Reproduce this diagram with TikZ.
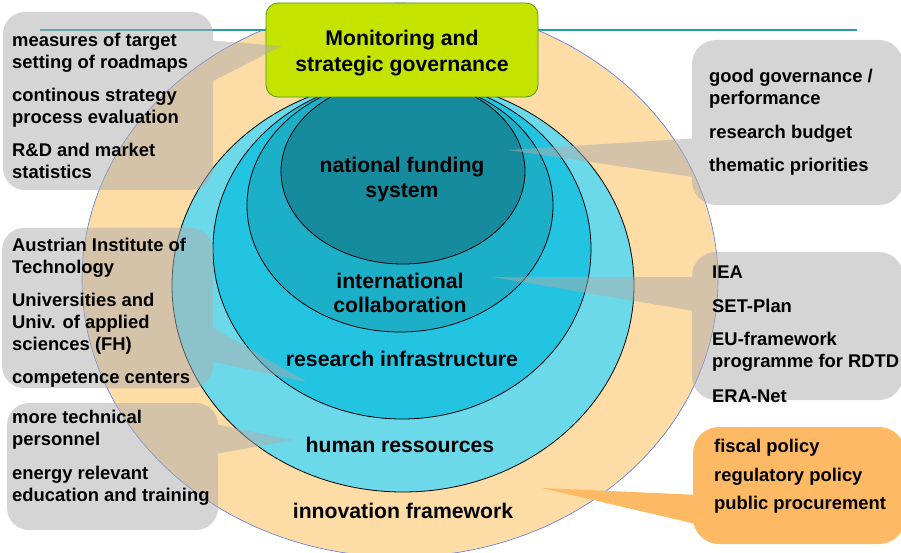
\documentclass[tikz,border=0pt]{standalone}
\usepackage{fontspec}
\setmainfont{Liberation Sans}
\usepackage{tikz}
\usetikzlibrary{shapes.geometric}
\definecolor{peach}{RGB}{253,220,166}
\definecolor{rimblue}{RGB}{80,120,230}
\definecolor{humanblue}{RGB}{108,217,234}
\definecolor{infrablue}{RGB}{34,196,225}
\definecolor{intlteal}{RGB}{27,176,200}
\definecolor{fundteal}{RGB}{22,139,157}
\definecolor{headteal}{RGB}{40,152,172}
\definecolor{limegreen}{RGB}{196,228,0}
\definecolor{boxgreen}{RGB}{80,150,30}
\definecolor{calloutgray}{RGB}{172,172,172}
\definecolor{policyorange}{RGB}{253,185,100}
\tikzstyle{ring}=[ellipse, draw=black, line width=0.8pt, inner sep=0pt]
\tikzstyle{ringtxt}=[font=\fontsize{21.2}{24.5}\selectfont\bfseries, align=center, anchor=north, inner sep=0pt]
\tikzstyle{tag}=[font=\fontsize{18.4}{22}\selectfont\bfseries, align=left, anchor=north west, inner sep=0pt]
\tikzstyle{callout}=[fill=calloutgray]

\begin{document}
\begin{tikzpicture}[x=1pt,y=-1pt]
            \useasboundingbox (0,0) rectangle (901,553);
            % Elipses
            \node[ring, draw=rimblue, line width=0.6pt, fill=peach, minimum width=636pt, minimum height=554pt] (frame) at (400,280) {};
            \node[ring, fill=humanblue, minimum width=462pt, minimum height=413pt] (human) at (403,285.5) {};
            \node[ring, fill=infrablue, minimum width=378pt, minimum height=340pt] (infra) at (402,249) {};
            \node[ring, fill=intlteal, minimum width=306pt, minimum height=253pt] (intl) at (400,205.5) {};
            \node[ring, fill=fundteal, minimum width=244pt, minimum height=185pt] (fund) at (403,171.5) {};
            % Linea de cabecera
            \coordinate (ruleL) at (40,30);
            \coordinate (ruleR) at (857,30);
            \draw[headteal, line width=2pt] (ruleL) -- (ruleR);
            % Textos de las elipses
            \node[ringtxt] (fundTxt) at (402,156.5) {national funding\\[0.5pt]system};
            \node[ringtxt] (intlTxt) at (400,272.5) {international\\[-0.5pt]collaboration};
            \node[ringtxt] (infraTxt) at (402,350.5) {research infrastructure};
            \node[ringtxt] (humanTxt) at (400,436.5) {human ressources};
            \node[ringtxt] (innovTxt) at (403,502.5) {innovation framework};
            % Caja verde
            \node[rounded corners=12pt, draw=boxgreen, fill=limegreen, line width=0.8pt, minimum width=272pt, minimum height=94pt] (monitor) at (402,50) {};
            \node[ringtxt, font=\fontsize{21.2}{26}\selectfont\bfseries] (monitorTxt) at (402,29.5) {Monitoring and\\strategic governance};
            % Llamadas grises
            \begin{scope}[transparency group, opacity=0.5]
                \fill[callout, rounded corners=22pt] (3,12) rectangle (213,190);
                \fill[callout] (205,40) -- (282,46) -- (205,85) -- cycle;
            \end{scope}
            \begin{scope}[transparency group, opacity=0.5]
                \fill[callout, rounded corners=24pt] (692,40) rectangle (903,205);
                \fill[callout] (700,138) -- (508,150) -- (700,178) -- cycle;
            \end{scope}
            \begin{scope}[transparency group, opacity=0.5]
                \fill[callout, rounded corners=22pt] (2,228) rectangle (213,388);
                \fill[callout] (205,323) -- (307,382) -- (205,360) -- cycle;
            \end{scope}
            \begin{scope}[transparency group, opacity=0.5]
                \fill[callout, rounded corners=22pt] (7,403) rectangle (218,530);
                \fill[callout] (210,423) -- (293,440) -- (210,455) -- cycle;
            \end{scope}
            \begin{scope}[transparency group, opacity=0.5]
                \fill[callout, rounded corners=24pt] (692,252) rectangle (903,400);
                \fill[callout] (700,277) -- (492,277) -- (700,312) -- cycle;
            \end{scope}
            % Llamada naranja
            \fill[policyorange, rounded corners=26pt] (693,427) rectangle (905,544);
            \fill[policyorange] (700,495) -- (542,488) -- (700,525) -- cycle;
            % Textos de las llamadas
            \node[tag] (steerTxt) at (12,32.6) {measures of target\\setting of roadmaps\\[11pt]continous strategy\\process evaluation\\[11pt]R\&D and market\\statistics};
            \node[tag] (budgetTxt) at (709,68.6) {good governance /\\performance\\[12pt]research budget\\[11pt]thematic priorities};
            \node[tag] (instTxt) at (12,237.6) {Austrian Institute of\\Technology\\[11pt]Universities and\\Univ. of applied\\sciences (FH)\\[11pt]competence centers};
            \node[tag] (staffTxt) at (12,409.6) {more technical\\personnel\\[12pt]energy relevant\\education and training};
            \node[tag] (euTxt) at (712,265.6) {IEA\\[12pt]SET-Plan\\[11pt]EU-framework\\programme for RDTD\\[13pt]ERA-Net};
            \node[tag] (policyTxt) at (714,438.6) {fiscal policy\\[7pt]regulatory policy\\[6pt]public procurement};
        \end{tikzpicture}
\end{document}
